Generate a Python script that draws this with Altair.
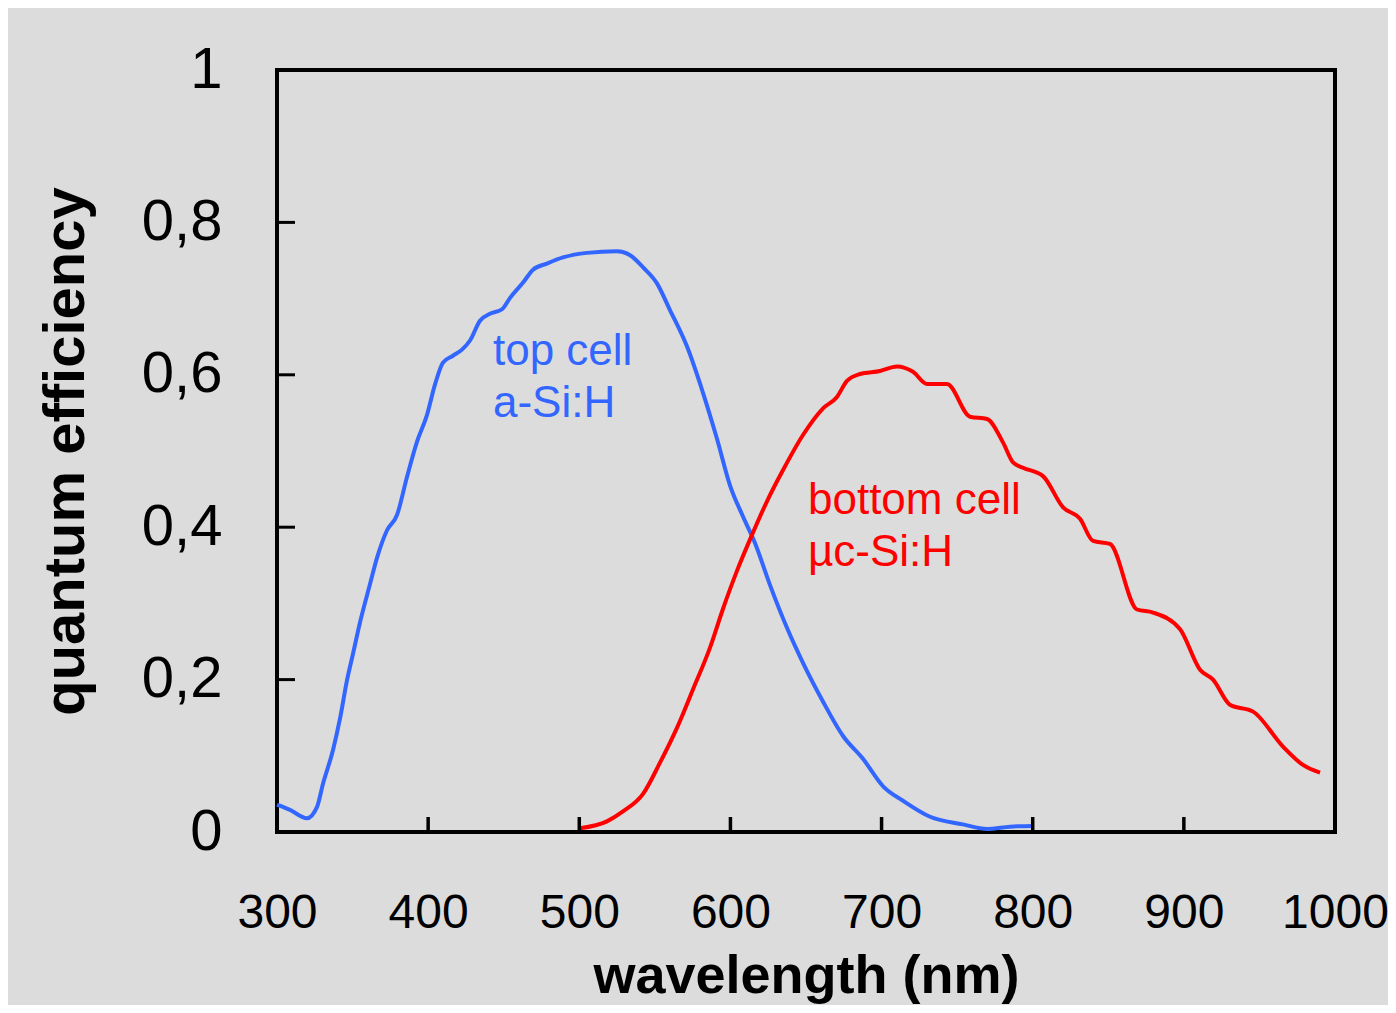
import altair as alt
import pandas as pd

# top cell (a-Si:H)
top_nm = [300, 308.6, 319.8, 326.5, 330.4, 337.1, 341.7, 346.3, 350.3, 354.9, 361.5, 366.2,
          372.8, 379.4, 386.0, 392.6, 399.2, 404.5, 409.8, 416.4, 422.4, 427.7, 434.3, 440.9,
          448.9, 454.2, 462.8, 469.4, 478.6, 489.2, 505.1, 525.0, 533.6, 542.2, 551.4, 560.0,
          571.3, 581.9, 591.1, 599.7, 608.3, 616.3, 626.2, 637.4, 648.0, 661.3, 674.5, 687.7,
          701.0, 714.2, 732.1, 753.9, 769.8, 785.0, 800.2]
top_qe = [0.036, 0.029, 0.018, 0.033, 0.063, 0.108, 0.149, 0.199, 0.234, 0.275, 0.325, 0.360,
          0.396, 0.416, 0.466, 0.512, 0.547, 0.587, 0.616, 0.625, 0.633, 0.645, 0.671, 0.680,
          0.686, 0.701, 0.721, 0.738, 0.746, 0.754, 0.760, 0.762, 0.757, 0.741, 0.720, 0.685,
          0.637, 0.576, 0.516, 0.455, 0.414, 0.379, 0.324, 0.268, 0.222, 0.171, 0.126, 0.096,
          0.060, 0.041, 0.020, 0.010, 0.004, 0.007, 0.008]

# bottom cell (uc-Si:H)
bot_nm = [500.5, 518.3, 528.9, 542.2, 553.4, 564.7, 575.2, 586.5, 595.1, 604.4, 613.0, 624.2,
          634.8, 648.0, 661.3, 670.5, 677.1, 685.7, 699.0, 710.2, 720.8, 730.1, 743.3, 758.5,
          769.8, 780.4, 787.0, 793.6, 806.8, 820.1, 831.3, 839.9, 851.1, 869.0, 879.6, 897.5,
          910.7, 919.3, 930.5, 945.8, 965.6, 978.8, 990.1]
bot_qe = [0.005, 0.014, 0.027, 0.050, 0.091, 0.137, 0.187, 0.242, 0.293, 0.343, 0.384, 0.434,
          0.475, 0.521, 0.556, 0.571, 0.592, 0.601, 0.605, 0.611, 0.604, 0.588, 0.588, 0.545,
          0.542, 0.511, 0.485, 0.478, 0.467, 0.426, 0.411, 0.382, 0.378, 0.292, 0.288, 0.266,
          0.213, 0.200, 0.167, 0.158, 0.112, 0.088, 0.078]

x_ticks = [300, 400, 500, 600, 700, 800, 900, 1000]
y_ticks = [0, 0.2, 0.4, 0.6, 0.8, 1.0]

top_labels = ["top cell", "a-Si:H"]
top_label_x = [442.9, 442.9]
top_label_y = [0.613, 0.545]
bot_labels = ["bottom cell", "µc-Si:H"]
bot_label_x = [651.3, 651.3]
bot_label_y = [0.417, 0.349]

BLUE = "#3366ff"
RED = "#ff0000"
FONT = "Liberation Sans"
W, H = 1058, 762

top_df = pd.DataFrame({"nm": top_nm, "qe": top_qe})
bot_df = pd.DataFrame({"nm": bot_nm, "qe": bot_qe})
xt_df = pd.DataFrame({"v": x_ticks[1:-1]})
yt_df = pd.DataFrame({"v": y_ticks[1:-1]})
tl_df = pd.DataFrame({"nm": top_label_x, "qe": top_label_y, "t": top_labels})
bl_df = pd.DataFrame({"nm": bot_label_x, "qe": bot_label_y, "t": bot_labels})

xscale = alt.Scale(domain=[300, 1000], nice=False, zero=False)
yscale = alt.Scale(domain=[0, 1], nice=False)

xaxis = alt.Axis(values=x_ticks, format="d", tickSize=0, domain=False, grid=False,
                 labelFont=FONT, labelFontSize=48, labelColor="black",
                 labelPadding=57, labelFlush=False, labelOverlap=False, labelBound=False,
                 title="wavelength (nm)", titleFont=FONT, titleFontSize=54,
                 titleFontWeight="bold", titleColor="black",
                 titleBaseline="alphabetic", titleY=160)
yaxis = alt.Axis(values=y_ticks, tickSize=0, domain=False, grid=False,
                 labelExpr="replace(format(datum.value, '.1~f'), '.', ',')",
                 labelFont=FONT, labelFontSize=58, labelColor="black",
                 labelPadding=55, labelFlush=False, labelOverlap=False, labelBound=False,
                 title="quantum efficiency", titleFont=FONT, titleFontSize=58,
                 titleFontWeight="bold", titleColor="black",
                 titleBaseline="alphabetic", titleX=-194, titleY=H / 2)

top_line = alt.Chart(top_df).mark_line(color=BLUE, strokeWidth=4, interpolate="monotone").encode(
    x=alt.X("nm:Q", scale=xscale, axis=xaxis),
    y=alt.Y("qe:Q", scale=yscale, axis=yaxis),
)
bot_line = alt.Chart(bot_df).mark_line(color=RED, strokeWidth=4, interpolate="monotone").encode(
    x=alt.X("nm:Q", scale=xscale),
    y=alt.Y("qe:Q", scale=yscale),
)

xticks = alt.Chart(xt_df).mark_rule(color="black", strokeWidth=3.5).encode(
    x=alt.X("v:Q", scale=xscale),
    y=alt.value(H), y2=alt.value(H - 15),
)
yticks = alt.Chart(yt_df).mark_rule(color="black", strokeWidth=3).encode(
    y=alt.Y("v:Q", scale=yscale),
    x=alt.value(0), x2=alt.value(18),
)

top_text = alt.Chart(tl_df).mark_text(color=BLUE, font=FONT, fontSize=44, align="left",
                                       baseline="alphabetic").encode(
    x=alt.X("nm:Q", scale=xscale), y=alt.Y("qe:Q", scale=yscale), text="t:N")
bot_text = alt.Chart(bl_df).mark_text(color=RED, font=FONT, fontSize=44, align="left",
                                       baseline="alphabetic").encode(
    x=alt.X("nm:Q", scale=xscale), y=alt.Y("qe:Q", scale=yscale), text="t:N")

chart = alt.layer(top_line, bot_line, xticks, yticks, top_text, bot_text).properties(
    width=W, height=H,
    background="#dcdcdc",
    autosize=alt.AutoSizeParams(type="none"),
    padding={"left": 269, "top": 62, "right": 53, "bottom": 173},
).configure_view(stroke="black", strokeWidth=4, fill="#dcdcdc")

chart.save("out.html", embed_options={"renderer": "svg", "actions": False})
